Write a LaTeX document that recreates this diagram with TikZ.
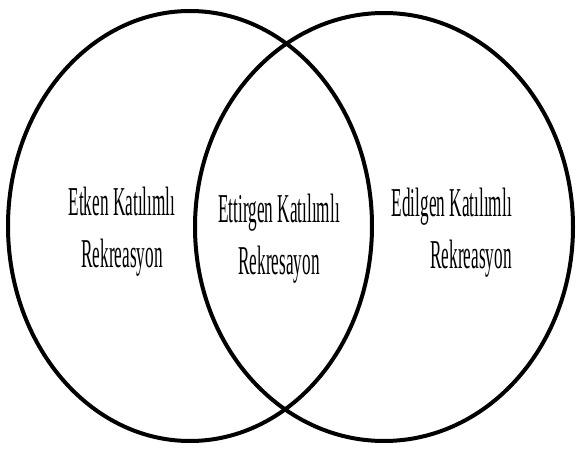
\documentclass[tikz,border=0pt]{standalone}
\usepackage{fontspec}
\newfontfamily\vennfont[FakeStretch=0.42]{Liberation Serif}
\usetikzlibrary{positioning}

\begin{document}
\begin{tikzpicture}[x=1pt, y=-1pt,
    set/.style={line width=4pt},
    setlabel/.style={font=\vennfont\fontsize{41}{52}\selectfont, inner sep=0pt, align=center}]
  \useasboundingbox (0,0) rectangle (576,452);
  \draw[set] (190,226) ellipse [x radius=182pt, y radius=215pt];
  \draw[set] (384,227) ellipse [x radius=189pt, y radius=214pt];
  \node[setlabel] (etken) at (122,232) {Etken Katılımlı\\Rekreasyon};
  \node[setlabel] (ettirgen) at (279,239) {Ettirgen Katılımlı\\Rekresayon};
  \node[setlabel, align=right, anchor=east] (edilgen) at (512,233) {Edilgen Katılımlı\\Rekreasyon};
\end{tikzpicture}
\end{document}
